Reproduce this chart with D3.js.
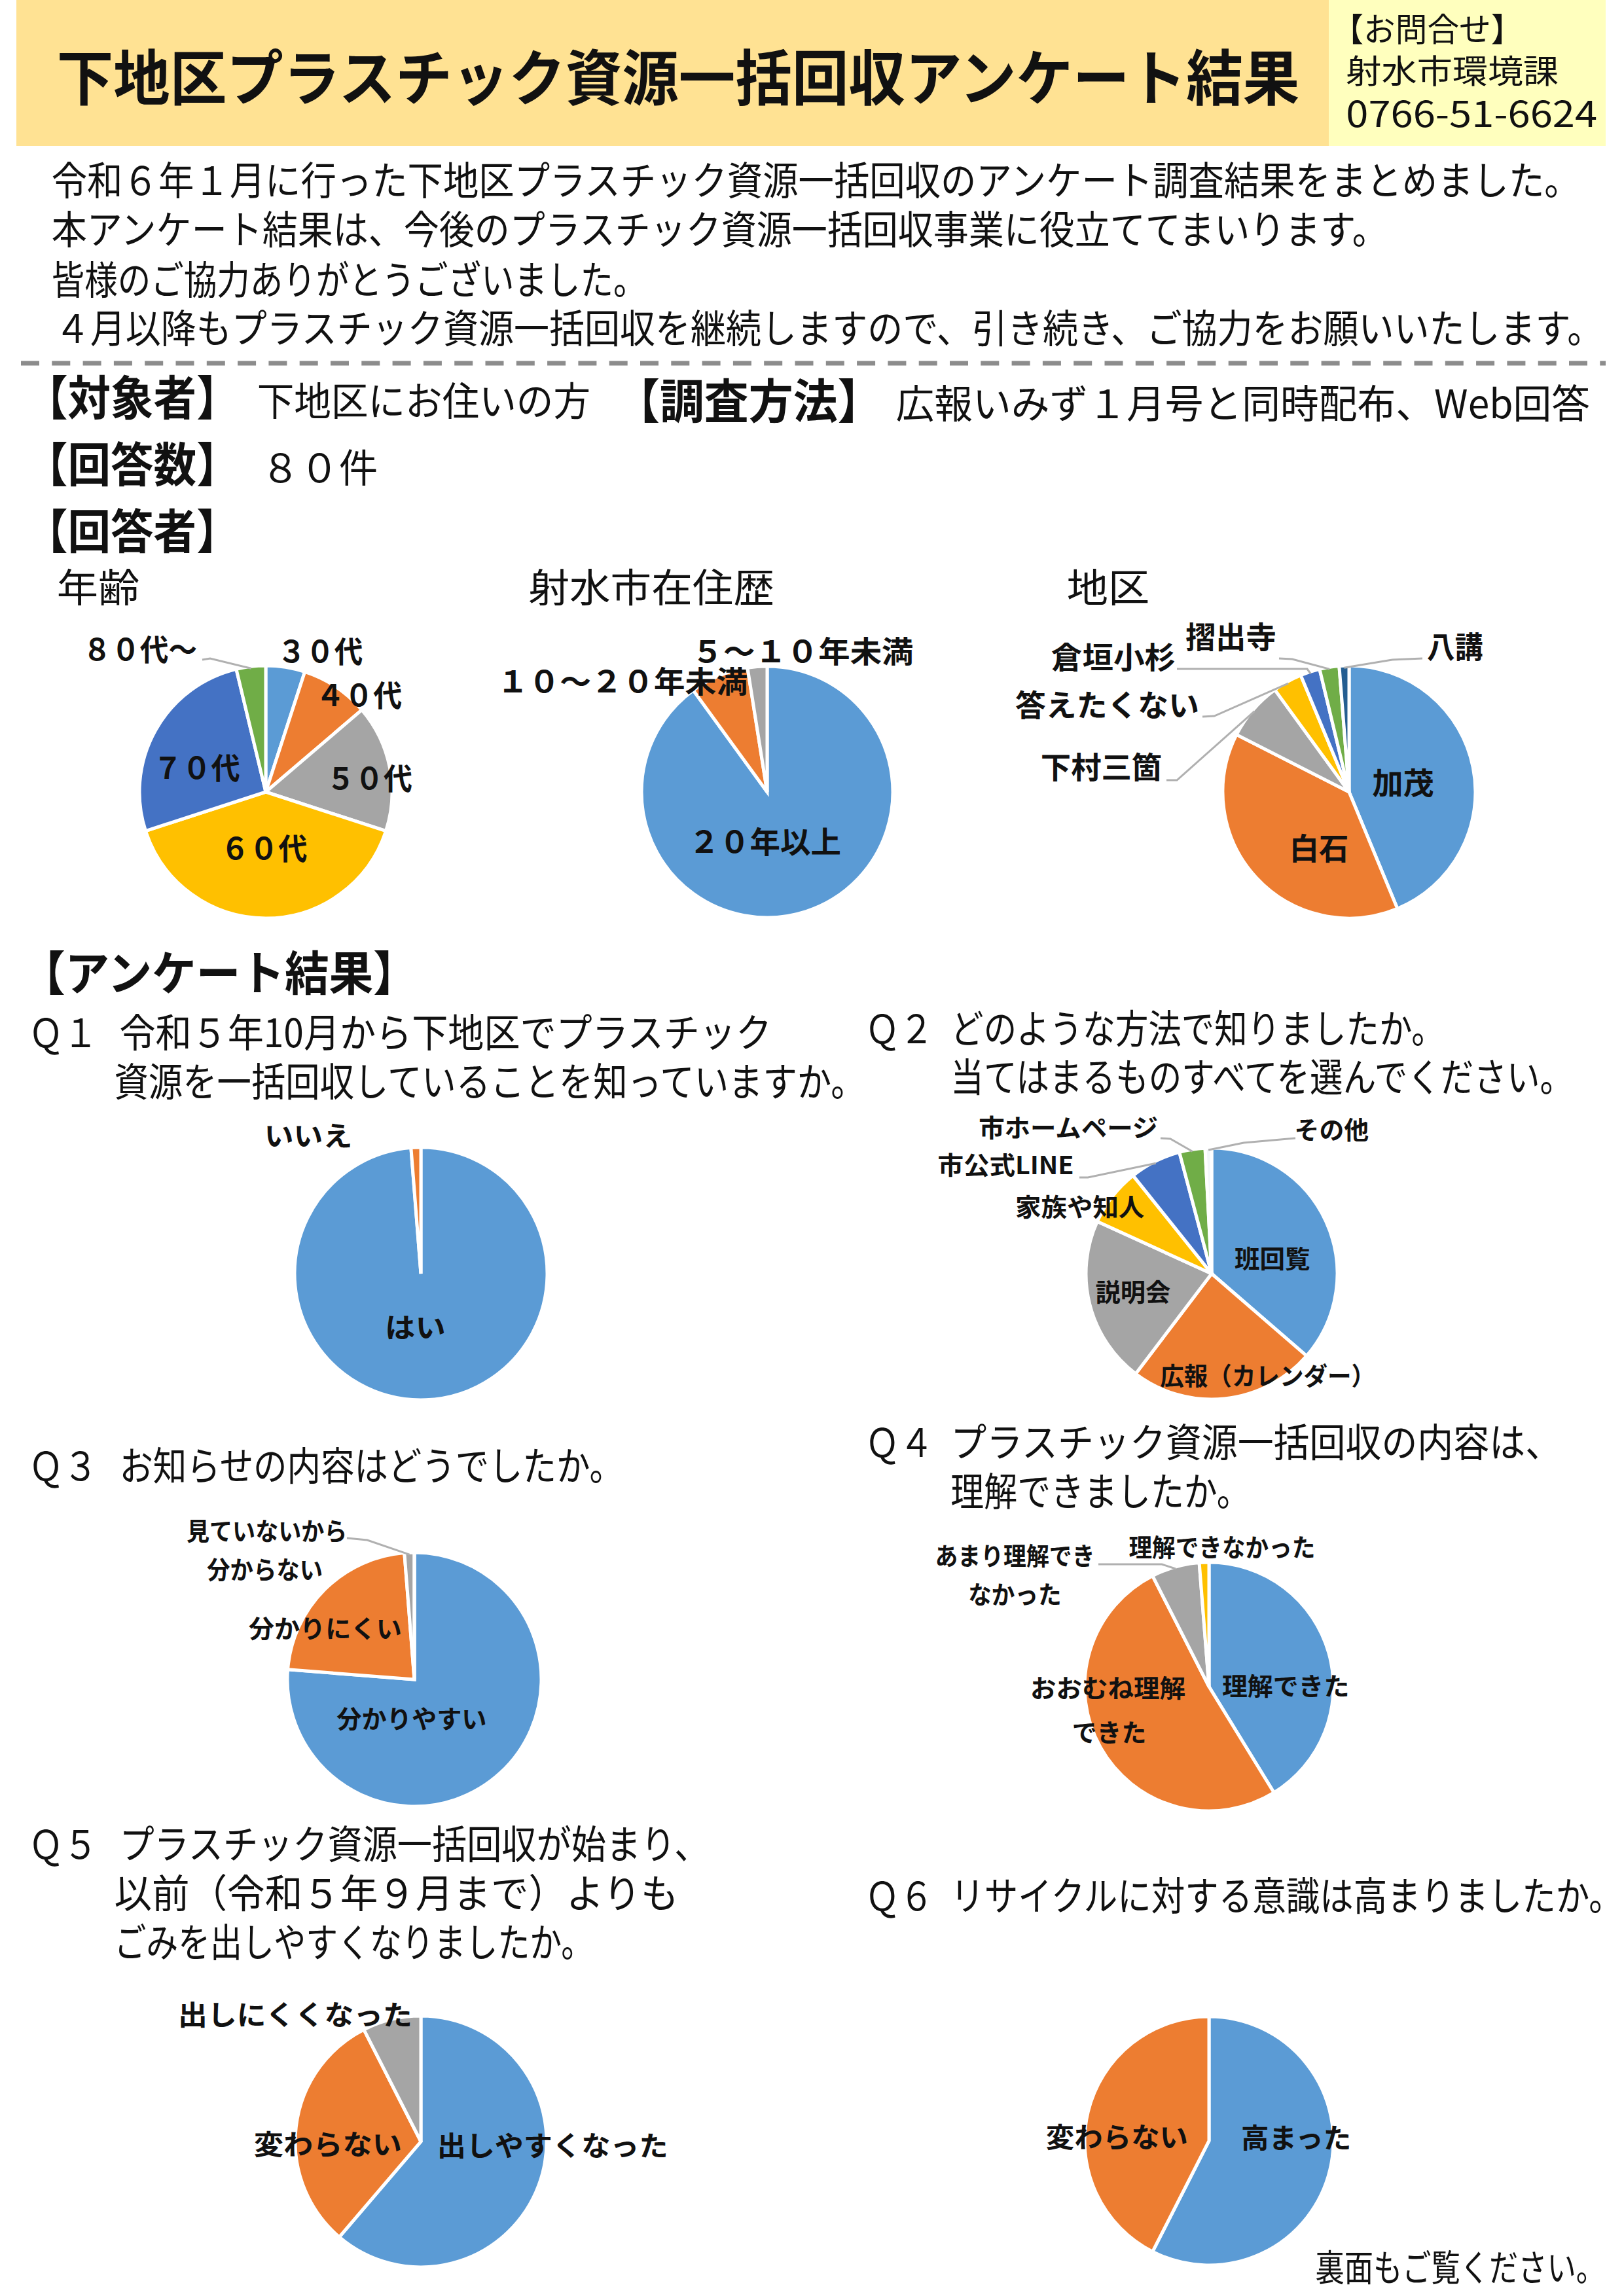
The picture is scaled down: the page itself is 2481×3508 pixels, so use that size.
<!DOCTYPE html>
<html lang="ja">
<head>
<meta charset="utf-8">
<title>下地区プラスチック資源一括回収アンケート結果</title>
<script src="https://cdn.jsdelivr.net/npm/d3@7"></script>
<style>
  html, body { margin: 0; background: #fff; }
  svg { display: block; }
  text { font-family: "Noto Sans CJK JP", "Noto Sans", sans-serif; fill: #111; }
</style>
</head>
<body>
<div id="page"></div>
<script>
// chart values (80 responses)
var ageNames = ["３０代", "４０代", "５０代", "６０代", "７０代", "８０代～"];
var ageValues = [4, 7, 13, 32, 21, 3];
var stayNames = ["２０年以上", "１０～２０年未満", "５～１０年未満"];
var stayValues = [72, 6, 2];
var areaNames = ["加茂", "白石", "下村三箇", "答えたくない", "倉垣小杉", "摺出寺", "八講"];
var areaValues = [35, 31, 6, 3, 2, 2, 1];
var q1Names = ["はい", "いいえ"];
var q1Values = [79, 1];
var q2Names = ["班回覧", "広報（カレンダー）", "説明会", "家族や知人", "市公式LINE", "市ホームページ", "その他"];
var q2Values = [44, 29, 26, 9, 8, 4, 1];
var q3Names = ["分かりやすい", "分かりにくい", "見ていないから", "分からない"];
var q3Values = [61, 18, 1, 0];
var q4Names = ["理解できた", "おおむね理解できた", "あまり理解できなかった", "理解できなかった"];
var q4Values = [33, 41, 5, 1];
var q5Names = ["出しやすくなった", "変わらない", "出しにくくなった"];
var q5Values = [49, 25, 6];
var q6Names = ["高まった", "変わらない"];
var q6Values = [46, 34];

var colors = ["#5b9bd5", "#ed7d31", "#a5a5a5", "#ffc000", "#4472c4", "#70ad47", "#255e91"];
// その他 in Q2 shows almost white
var q2Colors = ["#5b9bd5", "#ed7d31", "#a5a5a5", "#ffc000", "#4472c4", "#70ad47", "#f2f6fa"];

// [x1, x2, center y, string, font size, weight]
var pageTexts = [
    [87, 1992, 120, "下地区プラスチック資源一括回収アンケート結果", 92, 700],
    [2041, 2334, 45, "【お問合せ】", 50, 400],
    [2063, 2389, 109, "射水市環境課", 50, 400],
    [2063, 2448, 175, "0766-51-6624", 54, 400],
    [79, 2422, 276, "令和６年１月に行った下地区プラスチック資源一括回収のアンケート調査結果をまとめました。", 60, 400],
    [79, 2127, 351, "本アンケート結果は、今後のプラスチック資源一括回収事業に役立ててまいります。", 60, 400],
    [79, 991, 428, "皆様のご協力ありがとうございました。", 60, 400],
    [84, 2457, 502, "４月以降もプラスチック資源一括回収を継続しますので、引き続き、ご協力をお願いいたします。", 60, 400],
    [38, 367, 608, "【対象者】", 72, 700],
    [394, 905, 613, "下地区にお住いの方", 60, 400],
    [943, 1352, 613, "【調査方法】", 72, 700],
    [1373, 2437, 617, "広報いみず１月号と同時配布、Web回答", 60, 400],
    [38, 367, 710, "【回答数】", 72, 700],
    [400, 579, 715, "８０件", 60, 400],
    [38, 367, 812, "【回答者】", 72, 700],
    [87, 214, 898, "年齢", 60, 400],
    [810, 1187, 898, "射水市在住歴", 60, 400],
    [1635, 1762, 898, "地区", 60, 400],
    [32, 640, 1487, "【アンケート結果】", 72, 700],
    [44, 150, 1578, "Ｑ１", 60, 400],
    [183, 1183, 1578, "令和５年10月から下地区でプラスチック", 60, 400],
    [175, 1326, 1653, "資源を一括回収していることを知っていますか。", 60, 400],
    [1326, 1431, 1572, "Ｑ２", 60, 400],
    [1457, 2214, 1572, "どのような方法で知りましたか。", 60, 400],
    [1457, 2411, 1646, "当てはまるものすべてを選んでください。", 60, 400],
    [44, 150, 2240, "Ｑ３", 60, 400],
    [183, 955, 2240, "お知らせの内容はどうでしたか。", 60, 400],
    [1326, 1431, 2204, "Ｑ４", 60, 400],
    [1457, 2393, 2204, "プラスチック資源一括回収の内容は、", 60, 400],
    [1457, 1916, 2279, "理解できましたか。", 60, 400],
    [44, 150, 2818, "Ｑ５", 60, 400],
    [183, 1087, 2818, "プラスチック資源一括回収が始まり、", 60, 400],
    [175, 1040, 2893, "以前（令和５年９月まで）よりも", 60, 400],
    [175, 909, 2968, "ごみを出しやすくなりましたか。", 60, 400],
    [1326, 1431, 2897, "Ｑ６", 60, 400],
    [1457, 2487, 2897, "リサイクルに対する意識は高まりましたか。", 60, 400],
    [2016, 2460, 3465, "裏面もご覧ください。", 56, 400]
];

// [x1, x2, center y, string]
var ageLabels = [
    [425, 556, 995, ageNames[0]], [484, 616, 1062, ageNames[1]], [500, 632, 1189, ageNames[2]],
    [338, 471, 1296, ageNames[3]], [235, 368, 1173, ageNames[4]], [127, 302, 992, ageNames[5]]
];
var stayLabels = [
    [1056, 1289, 1286, stayNames[0]], [762, 1146, 1041, stayNames[1]], [1060, 1400, 995, stayNames[2]]
];
var areaLabels = [
    [2103, 2198, 1196, areaNames[0]], [1976, 2067, 1296, areaNames[1]], [1595, 1781, 1172, areaNames[2]],
    [1556, 1838, 1077, areaNames[3]], [1611, 1802, 1004, areaNames[4]], [1817, 1956, 973, areaNames[5]],
    [2187, 2273, 988, areaNames[6]]
];
var q1Labels = [[590, 683, 2029, q1Names[0]], [405, 540, 1736, q1Names[1]]];
var q2Labels = [
    [1892, 2008, 1923, q2Names[0]], [1778, 2108, 2102, q2Names[1]], [1679, 1794, 1974, q2Names[2]],
    [1556, 1754, 1844, q2Names[3]], [1437, 1646, 1780, q2Names[4]], [1500, 1775, 1723, q2Names[5]],
    [1984, 2098, 1726, q2Names[6]]
];
var q3Labels = [
    [516, 746, 2626, q3Names[0]], [381, 616, 2488, q3Names[1]], [317, 495, 2398, q3Names[3]],
    [286, 532, 2339, q3Names[2]]
];
var q4Labels = [
    [1873, 2068, 2576, "理解できた"], [1579, 1817, 2579, "おおむね理解"], [1643, 1757, 2647, "できた"],
    [1433, 1678, 2377, "あまり理解でき"], [1484, 1627, 2436, "なかった"], [1730, 2016, 2364, q4Names[3]]
];
var q5Labels = [[670, 1024, 3279, q5Names[0]], [389, 616, 3277, q5Names[1]], [273, 632, 3079, q5Names[2]]];
var q6Labels = [[1902, 2071, 3267, q6Names[0]], [1603, 1821, 3266, q6Names[1]]];

// leader lines: slice index and the elbow points leading to it
var ageLeaders = [{ slice: 5, points: [[309, 1008], [321, 1006]] }];
var areaLeaders = [
    { slice: 2, points: [[1782, 1192], [1798, 1192]] },
    { slice: 3, points: [[1837, 1095], [1855, 1094]] },
    { slice: 4, points: [[1798, 1022], [1997, 1022]] },
    { slice: 5, points: [[1954, 1006], [1974, 1007]] },
    { slice: 6, points: [[2173, 1006], [2127, 1008]] }
];
var q2Leaders = [
    { slice: 4, points: [[1649, 1799], [1662, 1799]] },
    { slice: 5, points: [[1773, 1739], [1788, 1740]] },
    { slice: 6, points: [[1979, 1739], [1900, 1746]] }
];
var q3Leaders = [{ slice: 2, points: [[530, 2350], [561, 2353]] }];
var q4Leaders = [{ slice: 2, points: [[1678, 2390], [1775, 2390]] }];

var width = 2481;
var height = 3508;

// text columns were measured on a slightly wider grid than the page
var textX = d3.scaleLinear().domain([0, 2489]).range([0, width]);

var svg = d3.select("#page")
    .append("svg")
    .attr("width", width)
    .attr("height", height);

// Header bands
svg.append("rect").attr("x", 25).attr("y", 0).attr("width", 2005).attr("height", 223).attr("fill", "#ffe293");
svg.append("rect").attr("x", 2030).attr("y", 0).attr("width", 423).attr("height", 223).attr("fill", "#ffffbe");

// Dashed separator
svg.append("line")
    .attr("x1", 32).attr("x2", 2453).attr("y1", 555).attr("y2", 555)
    .attr("stroke", "#8c8c8c").attr("stroke-width", 7).attr("stroke-dasharray", "28 19.3");

// The original font is narrower, so each text is squeezed to its measured width
function fitText(row, size, weight) {
    var x1 = textX(row[0]);
    var x2 = textX(row[1]);
    var label = svg.append("text")
        .attr("font-size", size)
        .attr("font-weight", weight)
        .text(row[3]);
    var natural = label.node().getComputedTextLength();
    label.attr("transform", "translate(" + x1 + "," + (row[2] + size * 0.36) + ") scale(" + ((x2 - x1) / natural) + ",1)");
}

pageTexts.forEach(function (row) {
    fitText(row, row[4], row[5]);
});

// Draws one pie, first slice starting at twelve o'clock
function drawPie(cx, cy, r, values, labels, labelSize, leaders, palette) {
    var arcs = d3.pie().sort(null)(values);
    var arc = d3.arc().innerRadius(0).outerRadius(r);
    var edge = d3.arc().innerRadius(r - 3).outerRadius(r - 3);
    var fills = palette || colors;
    var g = svg.append("g").attr("transform", "translate(" + cx + "," + cy + ")");

    g.selectAll("path")
        .data(arcs)
        .enter()
        .append("path")
        .attr("d", arc)
        .attr("fill", function (d, i) { return fills[i]; })
        .attr("stroke", "#fff")
        .attr("stroke-width", 5);

    (leaders || []).forEach(function (leader) {
        var end = edge.centroid(arcs[leader.slice]);
        var pts = leader.points.concat([[cx + end[0], cy + end[1]]]);
        svg.append("path")
            .attr("d", d3.line()(pts))
            .attr("fill", "none")
            .attr("stroke", "#b0b0b0")
            .attr("stroke-width", 3);
    });

    labels.forEach(function (row) {
        fitText(row, labelSize, 700);
    });
}

drawPie(406, 1210, 193, ageValues, ageLabels, 46, ageLeaders);
drawPie(1172, 1210, 192, stayValues, stayLabels, 46);
drawPie(2061, 1210, 193, areaValues, areaLabels, 46, areaLeaders);
drawPie(643, 1946, 193, q1Values, q1Labels, 42);
drawPie(1851, 1946, 192, q2Values, q2Labels, 38, q2Leaders, q2Colors);
drawPie(633, 2566, 194, q3Values, q3Labels, 38, q3Leaders);
drawPie(1847, 2577, 190, q4Values, q4Labels, 38, q4Leaders);
drawPie(643, 3272, 192, q5Values, q5Labels, 42);
drawPie(1847, 3271, 190, q6Values, q6Labels, 42);
</script>
</body>
</html>
